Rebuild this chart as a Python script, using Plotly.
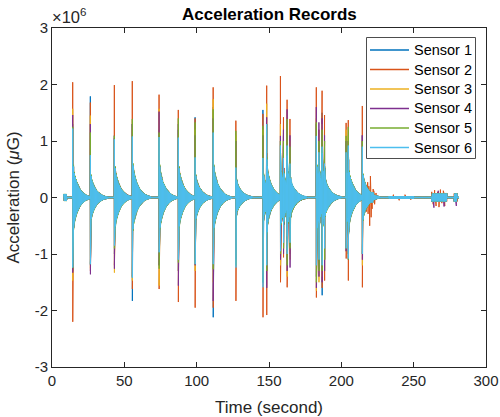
import numpy as np
import plotly.graph_objects as go

# ---------------- data ----------------
SENSORS = ["Sensor 1", "Sensor 2", "Sensor 3", "Sensor 4", "Sensor 5", "Sensor 6"]
COLORS = ["#0072BD", "#D95319", "#EDB120", "#7E2F8E", "#77AC30", "#4DBEEE"]

# impact times (s)
EVENT_T = [14.3, 26.5, 43.1, 55.5, 74.0, 87.3, 98.9, 111.4, 127.1, 145.8, 148.4,
           157.9, 160.0, 162.5, 164.5, 182.7, 184.5, 186.7, 188.4, 203.3, 204.8, 214.5]
# sustained ringing amplitude right after each impact (x1e6 uG)
EVENT_RING = [1.0, 0.7, 0.95, 1.0, 1.0, 0.95, 0.7, 1.0, 0.55, 0.7, 0.9,
              0.85, 0.7, 0.85, 0.6, 1.0, 0.8, 0.9, 0.6, 0.8, 0.9, 0.7]

# peak (positive) per sensor per impact (x1e6 uG)
PEAK_TOP = {
    "Sensor 1": [1.30, 1.79, 1.10, 1.30, 1.20, 1.20, 1.42, 1.60, 1.00, 1.55, 1.30, 1.00, 1.10, 1.20, 0.90, 1.30, 1.00, 1.50, 1.00, 1.00, 1.00, 1.10],
    "Sensor 2": [2.04, 1.68, 1.99, 2.06, 1.82, 1.55, 1.40, 1.95, 1.36, 1.48, 1.98, 2.15, 1.42, 1.73, 1.39, 1.95, 1.20, 1.89, 1.46, 1.32, 1.37, 1.62],
    "Sensor 3": [1.57, 1.45, 1.00, 1.20, 1.57, 1.10, 1.20, 1.74, 1.10, 1.20, 1.66, 1.30, 1.00, 1.30, 1.00, 1.40, 1.10, 1.30, 1.00, 1.20, 1.10, 1.00],
    "Sensor 4": [1.46, 1.30, 1.05, 1.30, 1.52, 1.30, 1.10, 1.40, 1.00, 1.10, 1.42, 1.09, 1.20, 1.56, 1.10, 1.60, 1.33, 1.40, 1.10, 1.00, 1.00, 1.10],
    "Sensor 5": [1.25, 1.15, 1.09, 1.39, 1.15, 1.40, 1.33, 1.56, 1.18, 1.27, 1.30, 1.00, 1.00, 1.39, 0.90, 1.33, 1.00, 1.20, 1.00, 1.09, 1.25, 1.00],
    "Sensor 6": [1.22, 0.75, 1.03, 1.08, 1.07, 1.06, 0.71, 1.15, 0.53, 0.70, 1.30, 0.92, 0.70, 0.92, 0.60, 1.09, 0.80, 0.90, 0.60, 0.80, 0.92, 0.90],
}
# peak (negative) per sensor per impact (x1e6 uG)
PEAK_BOT = {
    "Sensor 1": [-1.30, -1.20, -1.00, -1.83, -1.20, -1.30, -1.10, -2.12, -1.20, -1.50, -1.30, -1.00, -0.90, -1.10, -0.90, -1.40, -1.20, -1.73, -1.10, -0.95, -1.00, -1.00],
    "Sensor 2": [-2.20, -1.30, -1.20, -1.62, -1.62, -1.85, -1.95, -1.95, -1.83, -2.12, -2.08, -1.50, -1.06, -1.59, -1.00, -1.77, -1.30, -1.60, -1.47, -1.08, -1.47, -1.59],
    "Sensor 3": [-1.47, -1.25, -1.33, -1.47, -1.56, -1.30, -1.30, -1.50, -1.20, -1.40, -1.30, -1.20, -0.90, -1.40, -1.10, -1.65, -1.50, -1.40, -1.10, -0.95, -1.00, -1.20],
    "Sensor 4": [-1.33, -1.36, -1.26, -1.40, -1.20, -1.56, -1.20, -1.83, -1.10, -1.50, -1.60, -1.10, -1.00, -1.30, -1.24, -1.60, -1.40, -1.50, -1.30, -0.95, -1.10, -1.10],
    "Sensor 5": [-1.25, -1.18, -0.90, -1.42, -1.26, -1.15, -1.18, -1.27, -1.20, -1.50, -1.30, -1.00, -0.90, -1.20, -0.90, -1.50, -1.30, -1.30, -1.10, -0.90, -1.10, -1.00],
    "Sensor 6": [-1.24, -1.18, -0.85, -1.42, -0.97, -1.10, -1.18, -1.18, -1.24, -1.59, -1.20, -0.95, -0.80, -1.00, -0.80, -1.20, -1.10, -1.20, -0.90, -0.90, -1.08, -1.00],
}

# ringing decay profile read from the cyan envelope (seconds after impact, fraction)
DECAY_DT = [0.0, 0.3, 1.0, 2.0, 3.0, 5.0, 7.0, 9.0, 12.0, 15.0]
DECAY_FRAC = [1.0, 0.62, 0.45, 0.34, 0.26, 0.15, 0.09, 0.05, 0.02, 0.0]

# low-level bursts seen in the record (start s, end s, amplitude x1e6)
BURST_START = [8.0, 215.0, 233.0, 262.5, 278.0]
BURST_END = [10.0, 222.0, 250.0, 273.0, 280.0]
BURST_AMP = [0.06, 0.09, 0.025, 0.07, 0.07]
# extra red (Sensor 2) noise spikes after the last impact
RED_SPIKE_T = [216.5, 217.3, 218.2, 218.5, 219.0, 219.6, 220.1, 220.6, 221.3, 222.0, 222.4, 223.0, 224.0,
               236.0, 240.0, 244.0, 248.0,
               262.5, 263.5, 264.5, 265.5, 266.5, 267.5, 268.5, 269.5, 270.5, 271.5, 272.5]
RED_SPIKE_V = [0.22, -0.25, 0.27, -0.29, 0.20, -0.50, 0.38, -0.35, -0.20, 0.15, 0.12, -0.12, 0.08,
               0.05, -0.05, 0.05, -0.04,
               0.10, -0.12, 0.13, -0.15, 0.10, -0.17, 0.14, -0.10, 0.12, -0.15, 0.08]
PURPLE_SPIKE_T = [264.0, 267.0, 271.0, 279.5]
PURPLE_SPIKE_V = [-0.18, 0.12, -0.16, -0.15]

BASELINE = 0.012
RING_FACTOR = [1.0, 1.0, 1.0, 1.0, 1.06, 1.0]
T_START, T_END, DT = 8.0, 281.0, 0.05

X_TICKS = [0, 50, 100, 150, 200, 250, 300]
Y_TICKS = [-3, -2, -1, 0, 1, 2, 3]

# ---------------- build traces ----------------
t = np.arange(T_START, T_END, DT)
n = len(t)
alt = np.where(np.arange(n) % 2 == 0, 1.0, -1.0)

env = np.full(n, BASELINE)
for t0, a in zip(EVENT_T, EVENT_RING):
    d = t - t0
    e = np.where(d >= 0, a * np.interp(d, DECAY_DT, DECAY_FRAC, right=0.0), 0.0)
    env = np.maximum(env, e)
for s0, s1, a in zip(BURST_START, BURST_END, BURST_AMP):
    env = np.where((t >= s0) & (t <= s1), np.maximum(env, a), env)


def idx(tt):
    return int(round((tt - T_START) / DT))


fig = go.Figure()
for k, name in enumerate(SENSORS):
    y = alt * env * RING_FACTOR[k]
    for j, t0 in enumerate(EVENT_T):
        i = idx(t0)
        if i % 2:
            i += 1
        y[i] = PEAK_TOP[name][j]
        y[i + 1] = PEAK_BOT[name][j]
    if name == "Sensor 2":
        for tt, vv in zip(RED_SPIKE_T, RED_SPIKE_V):
            y[idx(tt)] = vv
    if name == "Sensor 4":
        for tt, vv in zip(PURPLE_SPIKE_T, PURPLE_SPIKE_V):
            y[idx(tt)] = vv
    fig.add_trace(go.Scatter(x=t, y=y * 1e6, mode="lines", name=name, showlegend=False,
                             line=dict(color=COLORS[k], width=1)))

FONT = "Liberation Sans, Arial, Helvetica, sans-serif"
AX = "#262626"

# ---- hand-drawn MATLAB-style legend (paper coordinates) ----
PLOT_L, PLOT_R, PLOT_T, PLOT_B = 52, 486, 28, 367
def px_x(p):
    return (p - PLOT_L) / (PLOT_R - PLOT_L)
def px_y(p):
    return (PLOT_B - p) / (PLOT_B - PLOT_T)

shapes = [dict(type="rect", xref="paper", yref="paper", layer="above",
               x0=px_x(366.5), x1=px_x(475.5), y0=px_y(158.5), y1=px_y(37.5),
               fillcolor="white", line=dict(color="#4d4d4d", width=1))]
annotations = []
ROW_Y = [50, 69.5, 89, 108.5, 128, 147.5]
for k, name in enumerate(SENSORS):
    shapes.append(dict(type="line", xref="paper", yref="paper", layer="above",
                       x0=px_x(370), x1=px_x(409), y0=px_y(ROW_Y[k]), y1=px_y(ROW_Y[k]),
                       line=dict(color=COLORS[k], width=1.5)))
    annotations.append(dict(text=name, x=px_x(412), y=px_y(ROW_Y[k]), xref="paper", yref="paper",
                            xanchor="left", yanchor="middle", showarrow=False,
                            font=dict(size=14.5, color="black")))

annotations += [
    dict(text="<b>Acceleration Records</b>", x=0.5, y=1, xref="paper", yref="paper",
         xanchor="center", yanchor="bottom", yshift=2, showarrow=False,
         font=dict(size=17, color="black")),
    dict(text="×10<sup>6</sup>", x=0, y=1, xref="paper", yref="paper",
         xanchor="left", yanchor="bottom", xshift=-2, yshift=0, showarrow=False,
         font=dict(size=16.5, color=AX)),
]

fig.update_layout(
    width=500, height=417,
    margin=dict(l=52, r=14, t=28, b=50, autoexpand=False),
    paper_bgcolor="white", plot_bgcolor="white",
    font=dict(family=FONT, color=AX, size=15),
    showlegend=False,
    xaxis=dict(range=[0, 300], tickvals=X_TICKS, ticktext=[str(v) for v in X_TICKS],
               ticks="inside", ticklen=5, tickcolor=AX, showline=True, linecolor=AX,
               linewidth=1, mirror="ticks", showgrid=False, zeroline=False, automargin=False,
               tickfont=dict(size=15, color=AX),
               title=dict(text="Time (second)", font=dict(size=17, color=AX), standoff=14)),
    yaxis=dict(range=[-3e6, 3e6], tickvals=[v * 1e6 for v in Y_TICKS],
               ticktext=[str(v) for v in Y_TICKS],
               ticks="inside", ticklen=5, tickcolor=AX, showline=True, linecolor=AX,
               linewidth=1, mirror="ticks", showgrid=False, zeroline=False, automargin=False,
               tickfont=dict(size=15, color=AX),
               title=dict(text="Acceleration (<i>μ</i>G)", font=dict(size=17, color=AX), standoff=10)),
    shapes=shapes,
    annotations=annotations,
)

fig.write_html("out.html")
